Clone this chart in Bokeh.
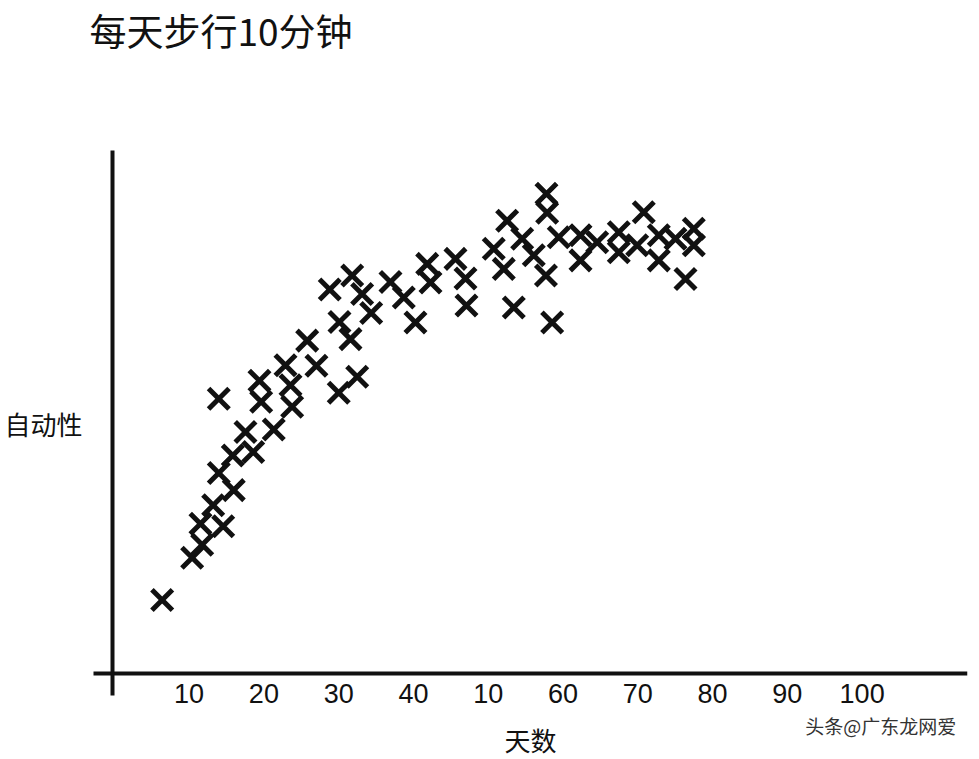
from bokeh.plotting import figure
from bokeh.models import Title, FixedTicker, Label, Range1d
from bokeh.embed import file_html
from bokeh.resources import INLINE

# ---- data ----
title_text = "每天步行10分钟"
x_label = "天数"
y_label = "自动性"
tick_values = [10, 20, 30, 40, 50, 60, 70, 80, 90, 100]
tick_labels = ["10", "20", "30", "40", "10", "60", "70", "80", "90", "100"]

days = [6.40, 10.41, 11.75, 11.52, 13.22, 14.56, 15.97, 13.97, 15.84, 17.54,
        18.57, 13.97, 19.64, 19.41, 21.32, 23.78, 23.56, 22.89, 27.03, 25.79,
        30.01, 32.48, 31.58, 30.11, 28.81, 31.81, 33.14, 34.35, 36.93, 38.71,
        40.27, 41.84, 42.28, 45.62, 46.96, 47.09, 50.74, 52.53, 52.08, 53.42,
        54.54, 56.09, 57.79, 57.88, 59.43, 57.72, 58.55, 62.34, 62.34, 64.57,
        67.46, 67.46, 69.92, 70.80, 72.81, 72.81, 75.04, 77.49, 77.49, 76.38]
automaticity = [14.6, 23.0, 25.6, 29.8, 33.5, 29.3, 36.5, 39.9, 43.4, 48.1,
                44.1, 54.7, 54.1, 58.3, 48.6, 53.1, 57.4, 61.4, 61.3, 66.3,
                55.9, 59.1, 66.6, 70.0, 76.5, 79.3, 75.6, 71.8, 78.0, 74.9,
                69.9, 81.6, 77.9, 82.6, 78.7, 73.3, 84.6, 90.2, 80.6, 72.9,
                86.6, 83.3, 95.6, 91.8, 86.9, 79.3, 69.9, 87.3, 82.3, 85.9,
                87.9, 83.9, 85.3, 91.9, 87.3, 82.3, 86.6, 88.6, 85.3, 78.6]

watermark = "头条@广东龙网爱"

CJK = "Noto Sans CJK SC"
INK = "#111111"

p = figure(width=979, height=759, output_backend="svg", toolbar_location=None,
           x_range=Range1d(-15.22, 114.09), y_range=Range1d(-17.2, 104.6),
           min_border_left=0, min_border_right=12, min_border_top=0,
           min_border_bottom=0, title=None)
p.background_fill_color = "white"
p.border_fill_color = "white"
p.outline_line_color = None
p.grid.visible = False

# spacer between frame and title, then the title itself
p.add_layout(Title(text=" ", text_font=CJK, text_font_size="37px",
                   standoff=36), "above")
p.add_layout(Title(text=title_text, text_font=CJK, text_font_size="37px",
                   text_font_style="normal", text_color=INK,
                   align="left", offset=89, standoff=0), "above")

# x axis drawn at y = 0
xa = p.xaxis[0]
xa.fixed_location = 0
xa.bounds = (-2.79, 114.09)
xa.ticker = FixedTicker(ticks=tick_values)
xa.major_label_overrides = {v: s for v, s in zip(tick_values, tick_labels)}
xa.major_tick_out = 0
xa.major_tick_in = 0
xa.minor_tick_out = 0
xa.minor_tick_in = 0
xa.axis_line_width = 4
xa.axis_line_color = INK
xa.major_label_text_font = "Liberation Sans"
xa.major_label_text_font_size = "27px"
xa.major_label_text_color = INK
xa.major_label_standoff = 11
xa.axis_label = x_label
xa.axis_label_text_font = CJK
xa.axis_label_text_font_size = "26px"
xa.axis_label_text_font_style = "normal"
xa.axis_label_text_color = INK
xa.axis_label_standoff = 14

# y axis: vertical line crossing below the x axis, label only
ya = p.yaxis[0]
ya.fixed_location = -0.29
ya.bounds = (-4.4, 104.2)
ya.ticker = FixedTicker(ticks=[])
ya.major_tick_out = 0
ya.major_tick_in = 0
ya.minor_tick_out = 0
ya.minor_tick_in = 0
ya.axis_line_width = 4
ya.axis_line_color = INK
ya.major_label_standoff = 0
ya.axis_label = y_label
ya.axis_label_orientation = "horizontal"
ya.axis_label_text_font = CJK
ya.axis_label_text_font_size = "26px"
ya.axis_label_text_font_style = "normal"
ya.axis_label_text_color = INK
ya.axis_label_standoff = 30

# data points
p.scatter(days, automaticity, marker="x", size=29, line_width=5,
          line_color=INK)

# watermark
p.add_layout(Label(x=92.4, y=-10.4, text=watermark, text_font=CJK,
                   text_font_size="19px", text_color="#333333",
                   text_baseline="middle"))

open("out.html", "w").write(file_html(p, INLINE))
